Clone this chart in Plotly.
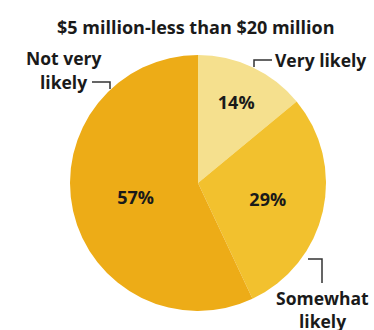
import plotly.graph_objects as go

categories = ["Very likely", "Somewhat likely", "Not very likely"]
values = [14, 29, 57]
colors = ["#F5E08E", "#F2C12E", "#EDAC17"]

W, H = 374, 330
def px(x): return x / W
def py(y): return 1 - y / H

FAM = "Open Sans"
fig = go.Figure(go.Pie(
    labels=categories, values=values, sort=False, direction="clockwise", rotation=0,
    marker=dict(colors=colors, line=dict(width=0)),
    texttemplate="<b>%{value}%</b>", textposition="inside", insidetextorientation="horizontal",
    textfont=dict(family=FAM, size=18, color="#1a1a1a"),
    domain=dict(x=[px(70), px(326)], y=[py(311), py(55)]),
    showlegend=False, hoverinfo="label+percent",
))

font = dict(family=FAM, size=17.5, color="#1a1a1a")
ann = [
    dict(x=px(196), y=py(27), text="<b>$5 million-less than $20 million</b>", font=dict(family=FAM, size=18, color="#1a1a1a")),
    dict(x=px(320), y=py(60), text="<b>Very likely</b>", font=font),
    dict(x=px(63), y=py(58), text="<b>Not very</b>", font=font),
    dict(x=px(63), y=py(82), text="<b>likely</b>", font=font),
    dict(x=px(322), y=py(298), text="<b>Somewhat</b>", font=font),
    dict(x=px(322), y=py(321), text="<b>likely</b>", font=font),
]
annotations = [dict(xref="paper", yref="paper", showarrow=False, xanchor="center", yanchor="middle", **a) for a in ann]

line = dict(color="#333333", width=1.5)
shapes = []
for pts in [[(272, 60), (254, 60), (254, 67)],
            [(92, 82), (110, 82), (110, 89)],
            [(308, 259), (322, 259), (322, 283)]]:
    path = "M " + " L ".join(f"{px(x)},{py(y)}" for x, y in pts)
    shapes.append(dict(type="path", xref="paper", yref="paper", path=path, line=line))

fig.update_layout(width=W, height=H, margin=dict(l=0, r=0, t=0, b=0),
                  paper_bgcolor="white", plot_bgcolor="white",
                  annotations=annotations, shapes=shapes)
fig.write_html("out.html")
